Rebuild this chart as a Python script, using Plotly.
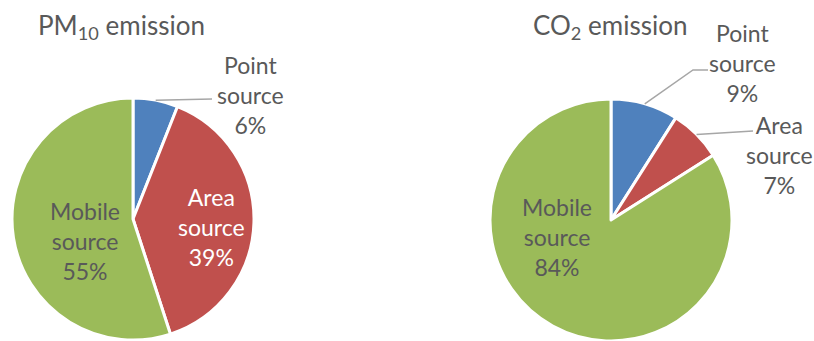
import math
import plotly.graph_objects as go

# Emission shares by source type (percent)
sources = ["Point source", "Area source", "Mobile source"]
pm10_share = [6, 39, 55]
co2_share = [9, 7, 84]
titles = ["PM<sub>10</sub> emission", "CO<sub>2</sub> emission"]

# ---- styling / layout ----
W, H = 814, 341
colors = ["#4F81BD", "#C0504D", "#9BBB59"]
text_grey = "#595959"
leader_grey = "#A6A6A6"
FONT = "Lato"


def px(x):
    return x / W


def py(y):
    return 1 - y / H


# pie boxes in pixels: (left, top, right, bottom)
pie_boxes = [(12, 98, 254, 340), (490, 99, 732, 341)]

fig = go.Figure()
for shares, box in zip([pm10_share, co2_share], pie_boxes):
    l, t, r, b = box
    fig.add_trace(go.Pie(
        labels=sources,
        values=shares,
        sort=False,
        direction="clockwise",
        rotation=0,
        textinfo="none",
        hoverinfo="skip",
        marker=dict(colors=colors, line=dict(color="white", width=3)),
        domain=dict(x=[px(l), px(r)], y=[py(b), py(t)]),
        showlegend=False,
    ))

annotations = []
shapes = []

# titles
for title, cx in zip(titles, [121, 610]):
    annotations.append(dict(
        text=title, x=px(cx), y=py(26), xref="paper", yref="paper",
        xanchor="center", yanchor="middle", showarrow=False,
        font=dict(family=FONT, size=26, color=text_grey),
    ))

# label placement per pie: (source index, label centre px, font colour, leader elbow points)
label_specs = [
    [
        (0, (250, 95), text_grey, [(212, 99)]),
        (1, (211, 227), "white", None),
        (2, (85, 241), text_grey, None),
    ],
    [
        (0, (742, 63), text_grey, [(693, 70), (708, 70)]),
        (1, (779, 155), text_grey, [(753, 131)]),
        (2, (557, 237), text_grey, None),
    ],
]

for shares, box, specs in zip([pm10_share, co2_share], pie_boxes, label_specs):
    l, t, r, b = box
    cx, cy = (l + r) / 2, (t + b) / 2
    rad = (r - l) / 2
    total = sum(shares)
    starts = [sum(shares[:i]) for i in range(len(shares))]
    for idx, (lx, ly), col, elbow in specs:
        annotations.append(dict(
            text=f"{sources[idx].split()[0]}<br>{sources[idx].split()[1]}<br>{shares[idx]}%",
            x=px(lx), y=py(ly), xref="paper", yref="paper",
            xanchor="center", yanchor="middle", showarrow=False,
            font=dict(family=FONT, size=23, color=col),
        ))
        if elbow:
            mid = (starts[idx] + shares[idx] / 2) / total * 2 * math.pi
            sx = cx + rad * math.sin(mid)
            sy = cy - rad * math.cos(mid)
            pts = [(sx, sy)] + elbow
            path = "M " + " L ".join(f"{px(x):.5f},{py(y):.5f}" for x, y in pts)
            shapes.append(dict(
                type="path", path=path, xref="paper", yref="paper",
                line=dict(color=leader_grey, width=1.5),
            ))

fig.update_layout(
    width=W, height=H,
    margin=dict(l=0, r=0, t=0, b=0),
    paper_bgcolor="white",
    plot_bgcolor="white",
    annotations=annotations,
    shapes=shapes,
)

fig.write_html("out.html")
